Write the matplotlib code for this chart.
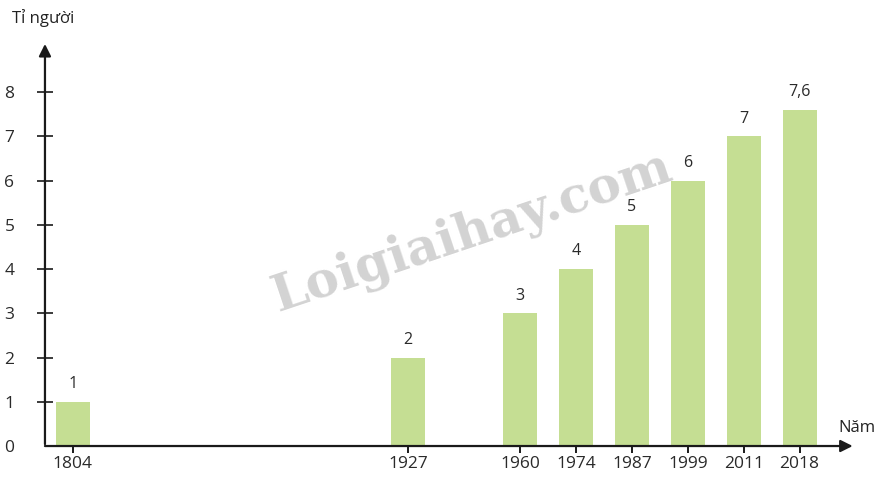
import matplotlib
matplotlib.use("Agg")
import matplotlib.pyplot as plt

years = ["1804", "1927", "1960", "1974", "1987", "1999", "2011", "2018"]
population = [1, 2, 3, 4, 5, 6, 7, 7.6]
slots = [0, 6, 8, 9, 10, 11, 12, 13]   # uneven spacing as in the picture

plt.rcParams['font.family'] = ['Open Sans', 'DejaVu Sans']

fig = plt.figure(figsize=(8.8, 4.8), dpi=100)
ax = fig.add_axes([0.0511, 0.0708, 0.921, 0.848])

bars = ax.bar(slots, population, width=0.61, color='#c5de93', zorder=2)
for x, v in zip(slots, population):
    lab = ("%g" % v).replace('.', ',')
    ax.text(x, v + 0.22, lab, ha='center', va='bottom', fontsize=11.5, color='#2a2a2a', zorder=3)

ax.set_xlim(-0.5, 14.0)
ax.set_ylim(0, 9.2)
for s in ax.spines.values():
    s.set_visible(False)

# axes with arrows
ax.annotate('', xy=(14.0, 0), xytext=(-0.55, 0), xycoords='data',
            arrowprops=dict(arrowstyle='-|>', color='#1a1a1a', lw=1.6,
                            mutation_scale=18), annotation_clip=False, zorder=4)
ax.annotate('', xy=(-0.5, 9.15), xytext=(-0.5, -0.02), xycoords='data',
            arrowprops=dict(arrowstyle='-|>', color='#1a1a1a', lw=1.6,
                            mutation_scale=18), annotation_clip=False, zorder=4)

ax.set_xticks(slots)
ax.set_xticklabels(years)
ax.set_yticks(range(0, 9))
ax.tick_params(axis='x', direction='inout', length=10, width=1.4, color='#1a1a1a',
               labelsize=12.5, labelcolor='#2a2a2a', pad=2)
ax.tick_params(axis='y', direction='inout', length=12, width=1.2, color='#1a1a1a',
               labelsize=12.5, labelcolor='#2a2a2a', pad=16)
ax.yaxis.get_major_ticks()[0].tick1line.set_visible(False)

fig.text(12 / 880, 1 - 18 / 480, "Tỉ người", fontsize=12, color='#222222', va='center', ha='left')
fig.text(838 / 880, 1 - 428 / 480, "Năm", fontsize=12, color='#222222', va='center', ha='left')

# watermark
fig.text(472 / 880, 1 - 232 / 480, "Loigiaihay.com", fontsize=36, fontweight='bold',
         family='DejaVu Serif', color='#d3d3d3', rotation=18.5, ha='center', va='center', zorder=0)

fig.savefig('out.png', dpi=100)
